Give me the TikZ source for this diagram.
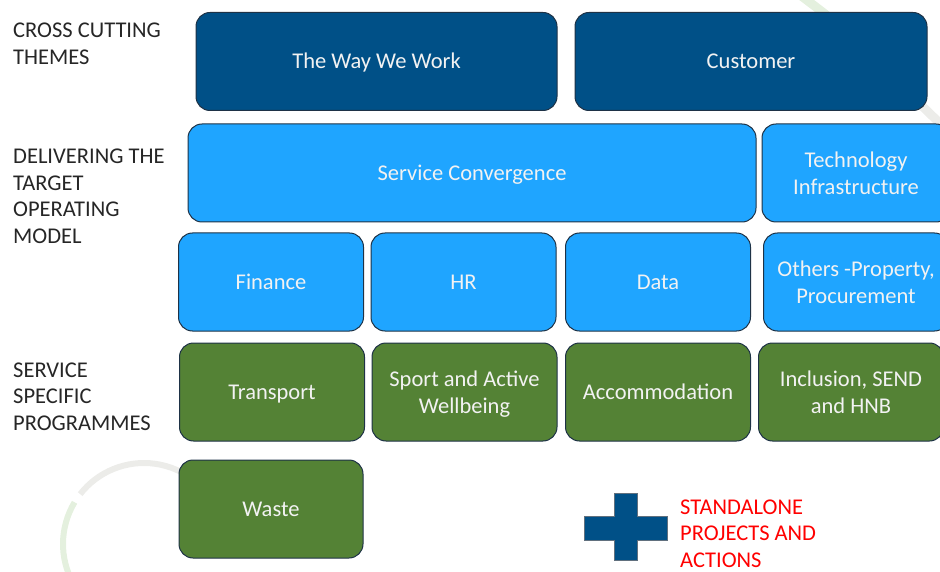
\documentclass[tikz,border=0pt]{standalone}
\usepackage{fontspec}
\setmainfont{Carlito}
\usepackage{tikz}
\definecolor{darkblu}{RGB}{0,80,135}
\definecolor{lightblu}{RGB}{31,165,255}
\definecolor{grn}{RGB}{84,130,53}
\definecolor{edge}{RGB}{30,50,70}
\definecolor{boxtext}{RGB}{242,242,242}
\definecolor{labeltext}{RGB}{38,38,38}
\definecolor{bggray}{RGB}{236,236,233}
\definecolor{bggreen}{RGB}{228,240,222}
\tikzset{
  tile/.style={draw=edge,line width=1pt,rounded corners=14pt,inner sep=0pt,
    text=boxtext,align=center,minimum height=98pt,font=\fontsize{22.5}{27}\selectfont,
    execute at begin node={\rule{0pt}{21pt}},
    execute at end node={\rule[-6.5pt]{0pt}{6.5pt}}},
  twolines/.style={execute at begin node={\rule{0pt}{50pt}}},
  oneline/.style={},
  rowlabel/.style={anchor=base west,inner sep=0pt,align=left,text=labeltext}
}

\begin{document}
\begin{tikzpicture}
  [x=1pt,y=-1pt,font=\fontsize{22.5}{26.5}\selectfont]
  \useasboundingbox (0,0) rectangle (940,572);
  \clip (0,0) rectangle (940,572);
  % faint rings behind
  \draw[bggray,line width=6pt] (144,544) ++(-142:81) arc[start angle=-142,end angle=-50,radius=81];
  \draw[bggreen,line width=6pt] (144,544) ++(-149:81) arc[start angle=-149,end angle=-260,radius=81];
  \draw[bggreen,line width=9pt] (796,-8) .. controls (840,25) .. (885,70);
  \draw[bggray,line width=9pt] (885,70) -- (955,138);
  % row labels (base = last line)
  \node[rowlabel] (lcross) at (13,64.5) {CROSS CUTTING\\THEMES};
  \node[rowlabel] (ltom) at (13,243.5) {DELIVERING THE\\TARGET\\OPERATING\\MODEL};
  \node[rowlabel] (lssp) at (13,430) {SERVICE\\SPECIFIC\\PROGRAMMES};
  % cross cutting themes
  \node[tile,fill=darkblu,minimum width=361pt] (way) at (376.5,61.5) {The Way We Work};
  \node[tile,fill=darkblu,minimum width=352pt] (cust) at (751,61.5) {Customer};
  % target operating model
  \node[tile,fill=lightblu,minimum width=568pt] (conv) at (472,173) {Service Convergence};
  \node[tile,twolines,fill=lightblu,minimum width=188pt] (tech) at (856,173) {Technology\\Infrastructure};
  \foreach \n/\x/\s/\t in {fin/271/oneline/Finance,hr/463.5/oneline/HR,data/658/oneline/Data,oth/856/twolines/{Others -Property,\\Procurement}}
    \node[tile,\s,fill=lightblu,minimum width=185pt] (\n) at (\x,282) {\t};
  % service specific programmes
  \foreach \n/\x/\s/\t in {trans/272/oneline/Transport,sport/464.5/twolines/{Sport and Active\\Wellbeing},acc/658/oneline/Accommodation,incl/851/twolines/{Inclusion, SEND\\and HNB}}
    \node[tile,\s,fill=grn,minimum width=185pt] (\n) at (\x,392) {\t};
  \node[tile,fill=grn,minimum width=184pt] (waste) at (271,509) {Waste};
  % standalone
  \fill[darkblu,draw=edge!70,line width=0.6pt] (614,493) -- (637,493) -- (637,516) -- (667,516)
    -- (667,540) -- (637,540) -- (637,560) -- (614,560) -- (614,540) -- (584,540)
    -- (584,516) -- (614,516) -- cycle;
  \node[rowlabel,text=red] (solo) at (680,567) {STANDALONE\\PROJECTS AND\\ACTIONS};
\end{tikzpicture}
\end{document}
